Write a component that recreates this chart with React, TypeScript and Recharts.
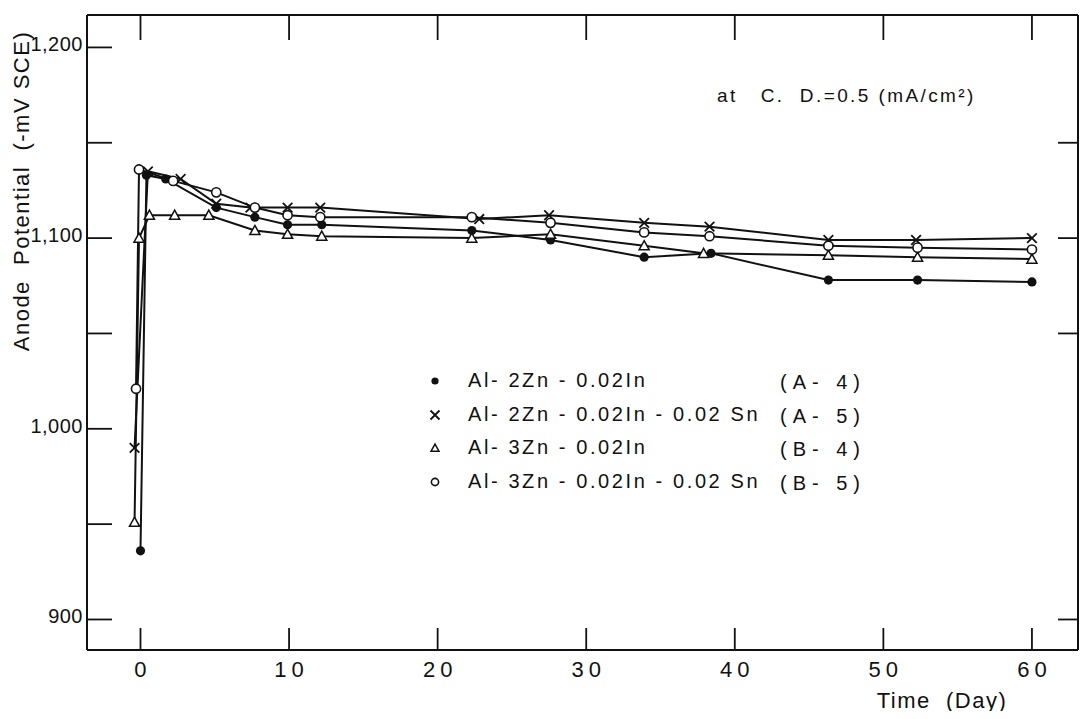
import React from 'react';
import { LineChart, Line, XAxis, YAxis, Legend } from 'recharts';

// Anode potential vs. time, four Al-Zn-In(-Sn) alloys
const dayTicks = [0, 10, 20, 30, 40, 50, 60];
const potentialTicks = [900, 950, 1000, 1050, 1100, 1150, 1200];
const rightTicks = [900, 1050, 1100, 1150];

const a4Days = [0, 0.4, 1.7, 5.1, 7.7, 9.9, 12.2, 22.3, 27.6, 33.9, 38.4, 46.3, 52.3, 60];
const a4Values = [936, 1133, 1131, 1116, 1111, 1107, 1107, 1104, 1099, 1090, 1092, 1078, 1078, 1077];

const a5Days = [-0.4, 0.5, 2.7, 5.1, 7.4, 9.9, 12.1, 22.8, 27.5, 33.9, 38.3, 46.3, 52.2, 60];
const a5Values = [990, 1135, 1131, 1118, 1116, 1116, 1116, 1110, 1112, 1108, 1106, 1099, 1099, 1100];

const b4Days = [-0.4, -0.1, 0.6, 2.3, 4.6, 7.7, 9.9, 12.2, 22.3, 27.6, 33.9, 37.9, 46.3, 52.3, 60];
const b4Values = [951, 1100, 1112, 1112, 1112, 1104, 1102, 1101, 1100, 1102, 1096, 1092, 1091, 1090, 1089];

const b5Days = [-0.3, -0.1, 2.2, 5.1, 7.7, 9.9, 12.1, 22.3, 27.6, 33.9, 38.3, 46.3, 52.3, 60];
const b5Values = [1021, 1136, 1130, 1124, 1116, 1112, 1111, 1111, 1108, 1103, 1101, 1096, 1095, 1094];

const seriesList = [
  { key: 'a4', name: 'Al- 2Zn - 0.02In', code: '(A- 4)', marker: 'filled', days: a4Days, values: a4Values },
  { key: 'a5', name: 'Al- 2Zn - 0.02In - 0.02 Sn', code: '(A- 5)', marker: 'cross', days: a5Days, values: a5Values },
  { key: 'b4', name: 'Al- 3Zn - 0.02In', code: '(B- 4)', marker: 'triangle', days: b4Days, values: b4Values },
  { key: 'b5', name: 'Al- 3Zn - 0.02In - 0.02 Sn', code: '(B- 5)', marker: 'open', days: b5Days, values: b5Values },
];

const FONT = '"Liberation Sans", Arial, sans-serif';
const INK = '#111';

function markerShape(kind: string, cx: number, cy: number, s: number, key?: string) {
  if (kind === 'filled') return <circle key={key} cx={cx} cy={cy} r={s} fill={INK} />;
  if (kind === 'open')
    return <circle key={key} cx={cx} cy={cy} r={s} fill="#fff" stroke={INK} strokeWidth={1.6} />;
  if (kind === 'triangle') {
    const h = s * 1.1;
    return (
      <polygon
        key={key}
        points={`${cx},${cy - h} ${cx + h},${cy + h * 0.8} ${cx - h},${cy + h * 0.8}`}
        fill="#fff"
        stroke={INK}
        strokeWidth={1.5}
      />
    );
  }
  return (
    <path
      key={key}
      d={`M${cx - s},${cy - s}L${cx + s},${cy + s}M${cx + s},${cy - s}L${cx - s},${cy + s}`}
      stroke={INK}
      strokeWidth={1.8}
      fill="none"
    />
  );
}

const BottomTick = ({ x, y, payload }: any) => (
  <g>
    <line x1={x} y1={y} x2={x} y2={y - 22} stroke={INK} strokeWidth={1.8} />
    <text x={x} y={y + 11} dx={2.5} textAnchor="middle" dominantBaseline="hanging"
      fontFamily={FONT} fontSize={22} letterSpacing={5} fill={INK}>
      {payload.value}
    </text>
  </g>
);

const TopTick = ({ x, y }: any) => (
  <line x1={x} y1={y} x2={x} y2={y + 25} stroke={INK} strokeWidth={1.8} />
);

const LeftTick = ({ x, y, payload }: any) => (
  <g>
    <line x1={x} y1={y} x2={x + 25} y2={y} stroke={INK} strokeWidth={1.8} />
    {payload.value % 100 === 0 && (
      <text x={x - 4} y={y - 3} textAnchor="end" dominantBaseline="central"
        fontFamily={FONT} fontSize={20} letterSpacing={0.5} fill={INK}>
        {payload.value.toLocaleString('en-US')}
      </text>
    )}
  </g>
);

const RightTick = ({ x, y }: any) => (
  <line x1={x - 20} y1={y} x2={x} y2={y} stroke={INK} strokeWidth={1.8} />
);

const renderLegend = () => (
  <div style={{ fontFamily: FONT, fontSize: 20, color: INK }}>
    {seriesList.map((s) => (
      <div key={s.key} style={{ position: 'relative', height: 33.5 }}>
        <svg width={14} height={14} style={{ position: 'absolute', left: 10, top: 9 }}>
          {markerShape(s.marker, 7, 7, s.marker === 'cross' ? 4.5 : 3.6)}
        </svg>
        <span style={{ position: 'absolute', left: 50, top: 4, whiteSpace: 'pre', letterSpacing: 2.6 }}>
          {s.name}
        </span>
        <span style={{ position: 'absolute', left: 362, top: 6, whiteSpace: 'pre', letterSpacing: 6 }}>
          {s.code}
        </span>
      </div>
    ))}
  </div>
);

export default function App() {
  return (
    <div style={{ position: 'relative', width: 1079, height: 703, fontFamily: FONT, color: INK }}>
      <LineChart width={1079} height={703} margin={{ top: 0, right: 0, bottom: 0, left: 0 }}>
        <XAxis xAxisId="bottom" orientation="bottom" type="number" dataKey="day"
          domain={[-3.6, 63.1]} ticks={dayTicks} interval={0} height={61}
          allowDataOverflow tickSize={0} tickMargin={0} tickLine={false} tick={BottomTick}
          axisLine={{ stroke: INK, strokeWidth: 2 }} />
        <XAxis xAxisId="top" orientation="top" type="number" dataKey="day"
          domain={[-3.6, 63.1]} ticks={dayTicks} interval={0} height={7}
          allowDataOverflow tickSize={0} tickMargin={0} tickLine={false} tick={TopTick}
          axisLine={{ stroke: INK, strokeWidth: 2 }} />
        <YAxis yAxisId="left" orientation="left" type="number"
          domain={[884, 1217]} ticks={potentialTicks} interval={0} width={79}
          allowDataOverflow tickSize={0} tickMargin={0} tickLine={false} tick={LeftTick}
          axisLine={{ stroke: INK, strokeWidth: 2 }} />
        <YAxis yAxisId="right" orientation="right" type="number"
          domain={[884, 1217]} ticks={rightTicks} interval={0} width={9}
          allowDataOverflow tickSize={0} tickMargin={0} tickLine={false} tick={RightTick}
          axisLine={{ stroke: INK, strokeWidth: 2 }} />
        {seriesList.map((s) => (
          <Line
            key={s.key}
            xAxisId="bottom"
            yAxisId="left"
            name={s.name}
            data={s.days.map((d, i) => ({ day: d, value: s.values[i] }))}
            dataKey="value"
            stroke={INK}
            strokeWidth={2}
            isAnimationActive={false}
            dot={(p: any) => markerShape(s.marker, p.cx, p.cy, s.marker === 'cross' ? 4.8 : 4.6, `${s.key}-${p.index}`)}
            activeDot={false}
          />
        ))}
        <Legend
          layout="vertical"
          verticalAlign="middle"
          align="center"
          content={renderLegend}
          wrapperStyle={{ position: 'absolute', left: 410, top: 357, width: 520 }}
        />
      </LineChart>

      <div style={{
        position: 'absolute', left: 14, top: 183, transform: 'translate(-50%, -50%) rotate(-90deg)',
        whiteSpace: 'pre', fontSize: 22, letterSpacing: 1.5,
      }}>
        {'Anode  Potential  (-mV SCE)'}
      </div>
      <div style={{
        position: 'absolute', left: 934, top: 693, transform: 'translate(-50%, -50%)',
        whiteSpace: 'pre', fontSize: 22, letterSpacing: 1.5,
      }}>
        {'Time  (Day)'}
      </div>
      <div style={{
        position: 'absolute', left: 709, top: 77, whiteSpace: 'pre', fontSize: 19, letterSpacing: 2.4,
      }}>
        {'at   C.  D.=0.5 (mA/cm²)'}
      </div>
    </div>
  );
}
